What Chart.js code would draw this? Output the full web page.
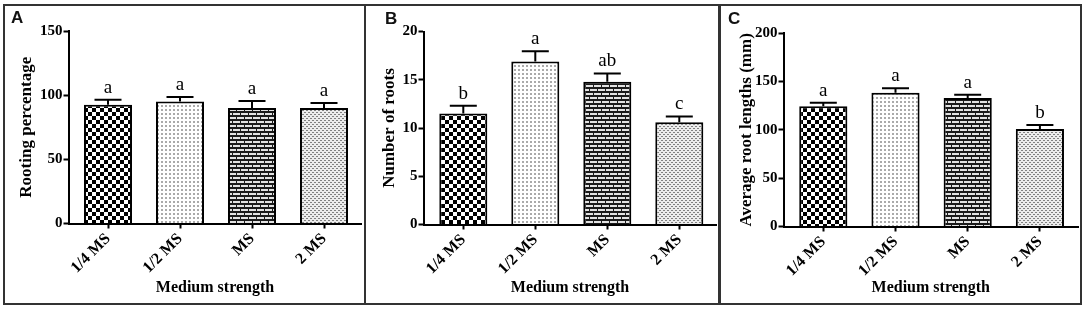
<!DOCTYPE html>
<html>
<head>
<meta charset="utf-8">
<script src="https://cdn.jsdelivr.net/npm/chart.js"></script>
<style>
body { margin:0; background:#fff; width:1084px; height:309px; overflow:hidden; position:relative; }
canvas { position:absolute; top:0; }
.frame { position:absolute; left:3px; top:4px; width:1079px; height:301px; border:2px solid #333; box-sizing:border-box; }
.divider { position:absolute; top:4px; height:301px; background:#333; }
.letter { position:absolute; font:bold 17px 'Liberation Sans', Arial, sans-serif; line-height:17px; color:#111; }
</style>
</head>
<body>
<canvas id="chartA" width="365" height="309" style="left:0px"></canvas>
<canvas id="chartB" width="354" height="309" style="left:365px"></canvas>
<canvas id="chartC" width="365" height="309" style="left:719px"></canvas>
<div class="frame"></div>
<div class="divider" style="left:364px;width:2px"></div>
<div class="divider" style="left:718px;width:3px"></div>
<div class="letter" style="left:11px;top:9px">A</div>
<div class="letter" style="left:385px;top:10px">B</div>
<div class="letter" style="left:728px;top:10px">C</div>
<script>
let categories = ["1/4 MS", "1/2 MS", "MS", "2 MS"];

let rootingPercent = [92.5, 95, 90, 90];
let rootingError = [4, 3.5, 5.5, 3.8];
let rootingLetters = ["a", "a", "a", "a"];
let rootingTicks = [0, 50, 100, 150];

let rootNumber = [11.5, 16.9, 14.8, 10.6];
let rootNumberError = [0.8, 1.05, 0.85, 0.6];
let rootNumberLetters = ["b", "a", "ab", "c"];
let rootNumberTicks = [0, 5, 10, 15, 20];

let rootLength = [124.5, 138.5, 133, 101];
let rootLengthError = [3.5, 4.5, 3.5, 4];
let rootLengthLetters = ["a", "a", "a", "b"];
let rootLengthTicks = [0, 50, 100, 150, 200];

let serif = "'Liberation Serif', 'Times New Roman', serif";

// bar fills: checker, light dots, bricks, dense dots
function makePattern(kind){
  let c = document.createElement("canvas");
  let g = c.getContext("2d");
  c.width = 8; c.height = 8;
  if(kind === "check"){
    g.fillStyle = "#fff"; g.fillRect(0,0,8,8);
    g.fillStyle = "#000"; g.fillRect(0,0,4,4); g.fillRect(4,4,4,4);
  } else if(kind === "dots"){
    c.width = 4; c.height = 4;
    g.fillStyle = "#fff"; g.fillRect(0,0,4,4);
    g.fillStyle = "#aaa"; g.fillRect(1,1,2,2);
  } else if(kind === "brick"){
    g.fillStyle = "#1a1a1a"; g.fillRect(0,0,8,8);
    g.fillStyle = "#e2e2e2";
    g.fillRect(1,1,7,2);
    g.fillRect(5,5,3,2); g.fillRect(0,5,4,2);
  } else {
    c.width = 4; c.height = 4;
    g.fillStyle = "#ececec"; g.fillRect(0,0,4,4);
    g.fillStyle = "#808080"; g.fillRect(0,0,2,1); g.fillRect(2,2,2,1);
  }
  return g.createPattern(c, "repeat");
}
let fills = [makePattern("check"), makePattern("dots"), makePattern("brick"), makePattern("lattice")];

let errorPlugin = {
  id: "marks",
  afterDatasetsDraw(chart){
    let ctx = chart.ctx;
    let xs = chart.scales.x;
    let ys = chart.scales.y;
    let ds = chart.data.datasets[0];
    ctx.save();
    ctx.strokeStyle = "#000";
    ctx.fillStyle = "#000";
    ctx.lineWidth = 2;
    ctx.font = "19px " + serif;
    ctx.textAlign = "center";
    ctx.textBaseline = "alphabetic";
    for(let i=0; i<ds.data.length; i++){
      let px = xs.getPixelForValue(i);
      let top = ys.getPixelForValue(ds.data[i]);
      let end = ys.getPixelForValue(ds.data[i] + ds.errors[i]);
      ctx.beginPath();
      ctx.moveTo(px, top); ctx.lineTo(px, end);
      ctx.moveTo(px - 13.5, end); ctx.lineTo(px + 13.5, end);
      ctx.stroke();
      ctx.fillText(ds.letters[i], px, end - 7);
    }
    ctx.restore();
  }
};

function makeChart(id, yTitle, values, errors, letters, ticks, box){
  let canvas = document.getElementById(id);
  let h = canvas.height;
  let padBottom = 12;
  let start = -(box.firstX - box.axisX) / box.step;
  let range = (box.right - box.axisX) / box.step;
  new Chart(canvas, {
    type: "bar",
    data: {
      labels: categories,
      datasets: [{
        data: values, errors: errors, letters: letters,
        backgroundColor: fills, borderColor: "#000", borderWidth: 2,
        categoryPercentage: 0.667, barPercentage: 1
      }]
    },
    options: {
      responsive: false,
      animation: false,
      layout: { padding: { left: 0, top: box.top, right: canvas.width - box.right, bottom: padBottom } },
      plugins: { legend: { display: false }, tooltip: { enabled: false } },
      scales: {
        x: {
          offset: true,
          grid: { offset: false, drawOnChartArea: false, tickLength: 5, tickWidth: 2, tickColor: "#000" },
          border: { color: "#000", width: 2 },
          ticks: { color: "#000", font: { family: serif, size: 16, weight: "bold" }, minRotation: 45, maxRotation: 45, autoSkip: false, padding: 1 },
          title: { display: true, text: "Medium strength", color: "#000", font: { family: serif, size: 16, weight: "bold" }, padding: 0 },
          afterBuildTicks: s => { s._startValue = start; s._valueRange = range; },
          afterFit: s => { s.height = h - padBottom - box.bottom; }
        },
        y: {
          min: ticks[0],
          max: ticks[ticks.length - 1],
          grid: { drawOnChartArea: false, tickLength: 5, tickWidth: 2, tickColor: "#000" },
          border: { color: "#000", width: 2 },
          ticks: { color: "#000", font: { family: serif, size: 15, weight: "bold" }, padding: 1 },
          title: { display: true, text: yTitle, color: "#000", font: { family: serif, size: 17, weight: "bold" }, padding: { top: box.titleX - 10.2, bottom: 0 } },
          afterBuildTicks: s => { s.ticks = ticks.map(v => ({ value: v })); },
          afterFit: s => { s.width = box.axisX; }
        }
      }
    },
    plugins: [errorPlugin]
  });
}

makeChart("chartA", "Rooting percentage", rootingPercent, rootingError, rootingLetters, rootingTicks,
  { axisX: 68.5, top: 31, bottom: 223.5, right: 361.5, firstX: 108, step: 72, titleX: 27 });
makeChart("chartB", "Number of roots", rootNumber, rootNumberError, rootNumberLetters, rootNumberTicks,
  { axisX: 58.5, top: 31.5, bottom: 224.5, right: 351.5, firstX: 98.3, step: 72, titleX: 25 });
makeChart("chartC", "Average root lengths (mm)", rootLength, rootLengthError, rootLengthLetters, rootLengthTicks,
  { axisX: 64.5, top: 33.3, bottom: 226.5, right: 359, firstX: 104.3, step: 72.2, titleX: 27.7 });
</script>
</body>
</html>
